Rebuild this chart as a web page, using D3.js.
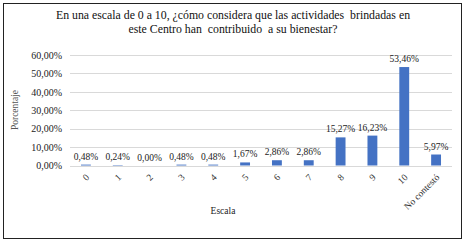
<!DOCTYPE html>
<html><head><meta charset="utf-8">
<script src="https://cdn.jsdelivr.net/npm/d3@7"></script>
<style>body{margin:0;background:#fff}svg{display:block}</style>
</head><body>
<script>
const categories = ["0","1","2","3","4","5","6","7","8","9","10","No contestó"];
const values = [0.48,0.24,0.00,0.48,0.48,1.67,2.86,2.86,15.27,16.23,53.46,5.97];
const yTicks = [0,10,20,30,40,50,60];
const titleLines = ["En una escala de 0 a 10, ¿cómo considera que las actividades  brindadas en","este Centro han  contribuido  a su bienestar?"];
const yTitle = "Porcentaje";
const xTitle = "Escala";

const FONT = "'Liberation Serif'";
const W=469,H=243;
const svg=d3.select("body").append("svg").attr("width",W).attr("height",H).attr("font-family",FONT).style("font-family",FONT);
svg.append("rect").attr("x",3.5).attr("y",3.5).attr("width",458).attr("height",235).attr("fill","#fff").attr("stroke","#222").attr("stroke-width",1);

const fmt=v=>v.toFixed(2).replace(".",",")+"%";
const x=d3.scaleBand().domain(categories).range([70,452]).paddingInner(0.69).paddingOuter(0.345);
const y=d3.scaleLinear().domain([0,60]).range([165.5,55]);

svg.append("g").selectAll("line").data(yTicks).join("line")
  .attr("x1",70).attr("x2",452).attr("y1",d=>Math.round(y(d))+0.5).attr("y2",d=>Math.round(y(d))+0.5)
  .attr("stroke","#d9d9d9").attr("stroke-width",1);

const yAxis=svg.append("g").attr("transform","translate(70,0)")
  .call(d3.axisLeft(y).tickValues(yTicks).tickFormat(fmt).tickSize(0).tickPadding(8));
yAxis.attr("font-family",FONT);
yAxis.select(".domain").remove();
yAxis.selectAll("text").attr("font-size",10).attr("fill","#222").style("font-family",FONT);

svg.append("g").selectAll("rect").data(values).join("rect")
  .attr("x",(d,i)=>x(categories[i])).attr("width",x.bandwidth())
  .attr("y",d=>y(d)).attr("height",d=>y(0)-y(d)).attr("fill","#4472C4");

svg.append("g").selectAll("text").data(values).join("text")
  .attr("x",(d,i)=>x(categories[i])+x.bandwidth()/2).attr("y",d=>y(d)-5)
  .attr("text-anchor","middle").attr("font-size",9.5).attr("fill","#222").style("font-family",FONT).text(fmt);

const xAxis=svg.append("g").attr("transform","translate(0,166)")
  .call(d3.axisBottom(x).tickSize(0).tickPadding(0));
xAxis.attr("font-family",FONT);
xAxis.select(".domain").remove();
xAxis.selectAll("text").attr("font-size",9.5).attr("fill","#333").style("font-family",FONT)
  .attr("text-anchor","end").attr("dy",0).attr("transform","translate(4,12) rotate(-45)");

svg.append("text").attr("x",223).attr("y",214).attr("text-anchor","middle").attr("font-size",9.5).attr("fill","#222").style("font-family",FONT).text(xTitle);
svg.append("text").attr("transform","translate(18,110) rotate(-90)").attr("text-anchor","middle").attr("font-size",9.5).attr("fill","#555").style("font-family",FONT).text(yTitle);

svg.append("g").selectAll("text").data(titleLines).join("text")
  .attr("x",233).attr("y",(d,i)=>19+i*13.5).attr("text-anchor","middle").attr("font-size",11.8).attr("fill","#111")
  .style("font-family",FONT).style("white-space","pre").text(d=>d);
</script>
</body></html>
